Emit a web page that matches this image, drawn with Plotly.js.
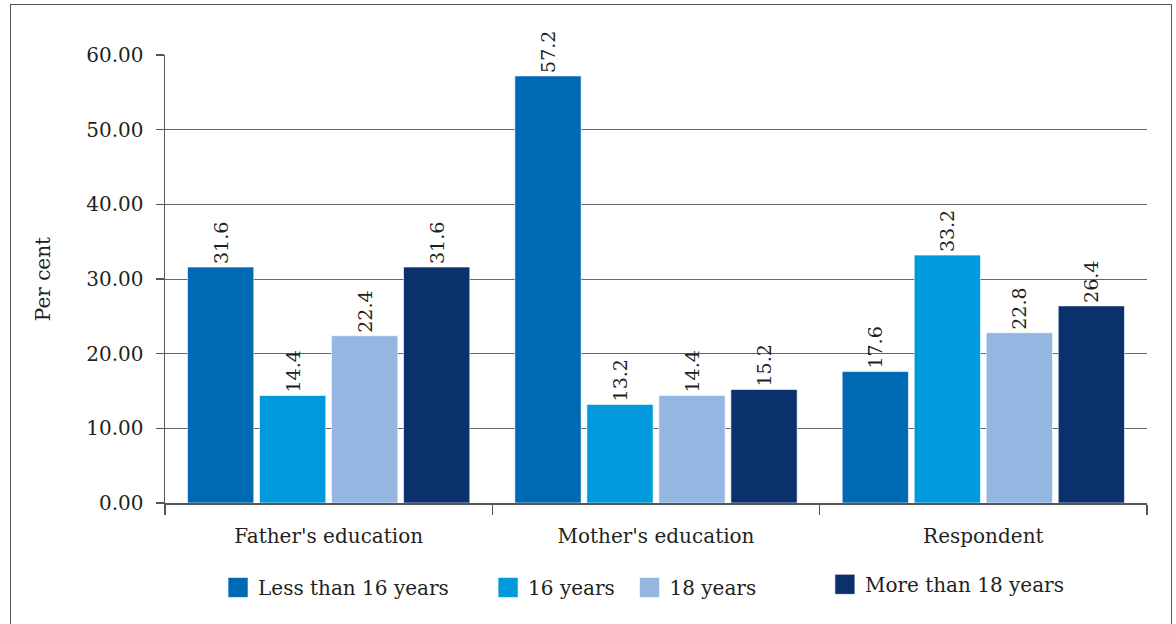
<!DOCTYPE html>
<html>
<head>
<meta charset="utf-8">
<script src="https://cdn.plot.ly/plotly-3.0.1.min.js"></script>
<style>
  html, body { margin: 0; padding: 0; background: #ffffff; }
  #wrap { position: relative; width: 1176px; height: 624px; overflow: hidden; }
  #chart { position: absolute; left: 0; top: 0; width: 1176px; height: 624px; }
  #frame {
    position: absolute; left: 10px; top: 4px; width: 1162px; height: 660px;
    border: 1.5px solid #555555; pointer-events: none; box-sizing: border-box;
  }
</style>
</head>
<body>
<div id="wrap">
  <div id="chart"></div>
  <div id="frame"></div>
</div>
<script>
// Age at completing education, by whose education is measured
const categories = ["Father's education", "Mother's education", "Respondent"];
const seriesNames = ['Less than 16 years', '16 years', '18 years', 'More than 18 years'];
const lessThan16 = [31.6, 57.2, 17.6];
const years16 = [14.4, 13.2, 33.2];
const years18 = [22.4, 14.4, 22.8];
const moreThan18 = [31.6, 15.2, 26.4];
const seriesValues = [lessThan16, years16, years18, moreThan18];
const seriesColors = ['#0069b4', '#0099dc', '#93b7e1', '#0a316c'];

const serif = 'DejaVu Serif, serif';
const ink = '#231f20';

// each series gets its own legend box so the entries can be spaced freely
const legendIds = ['legend', 'legend2', 'legend3', 'legend4'];
const legendX = [0.054, 0.329, 0.473, 0.672];
const legendY = [-0.145, -0.145, -0.145, -0.138];

const traces = seriesNames.map((name, i) => ({
  type: 'bar',
  name: name,
  legend: legendIds[i],
  x: categories,
  y: seriesValues[i],
  text: seriesValues[i].map(v => v.toFixed(1)),
  textposition: 'outside',
  textangle: -90,
  cliponaxis: false,
  textfont: { family: serif, size: 19, color: ink },
  marker: { color: seriesColors[i], line: { color: 'rgba(255,255,255,0.6)', width: 1 } },
  hoverinfo: 'x+y+name'
}));

const legendBase = {
  orientation: 'h',
  xanchor: 'left',
  yanchor: 'top',
  font: { family: serif, size: 20, color: ink },
  bgcolor: 'rgba(0,0,0,0)',
  itemclick: false, itemdoubleclick: false
};

const layout = {
  width: 1176,
  height: 624,
  margin: { l: 165, r: 29, t: 55, b: 121 },
  paper_bgcolor: '#ffffff',
  plot_bgcolor: '#ffffff',
  font: { family: serif, size: 20, color: ink },
  barmode: 'group',
  bargap: 0.12,
  bargroupgap: 0.08,
  showlegend: true,
  xaxis: {
    type: 'category',
    showline: true, linecolor: '#555555', linewidth: 1.5,
    ticks: 'outside', tickson: 'boundaries', ticklen: 10, tickcolor: '#555555', tickwidth: 1.5,
    ticklabelstandoff: 14,
    showgrid: false, zeroline: false,
    tickfont: { family: serif, size: 20, color: ink }
  },
  yaxis: {
    range: [0, 60],
    dtick: 10,
    tickformat: '.2f',
    showline: true, linecolor: '#555555', linewidth: 1.5,
    ticks: 'outside', ticklen: 8, tickcolor: '#555555', tickwidth: 1.5,
    ticklabelstandoff: 8,
    showgrid: true, gridcolor: '#666666', gridwidth: 1,
    zeroline: false,
    tickfont: { family: serif, size: 20, color: ink },
    title: { text: 'Per cent', font: { family: serif, size: 20, color: ink }, standoff: 30 }
  }
};
legendIds.forEach((id, i) => {
  layout[id] = Object.assign({}, legendBase, { x: legendX[i], y: legendY[i] });
});

Plotly.newPlot('chart', traces, layout, { staticPlot: true }).then(gd => {
  // Larger square swatches in the legends
  gd.querySelectorAll('.legendpoints path').forEach(p => {
    p.setAttribute('d', 'M10,10H-10V-10H10Z');
  });
});
</script>
</body>
</html>
